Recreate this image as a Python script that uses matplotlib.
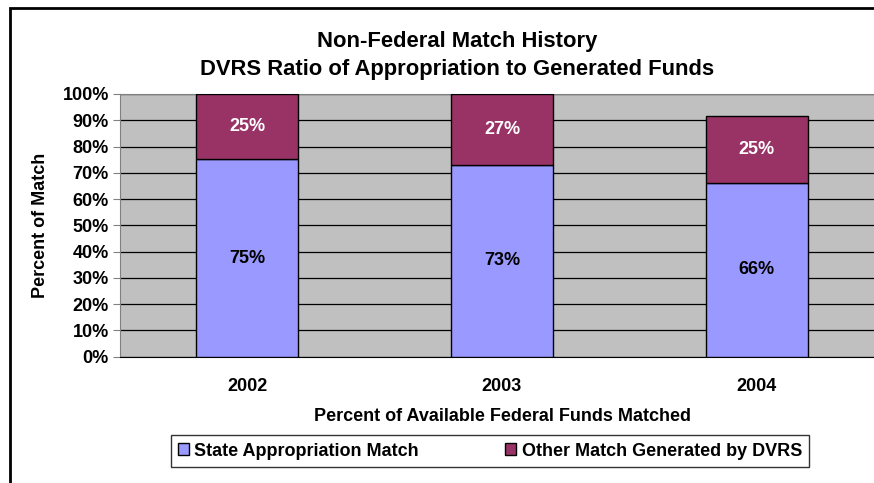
import numpy as np
import matplotlib.pyplot as plt
from matplotlib.patches import Patch, Rectangle

plt.rcParams["font.family"] = ["Liberation Sans", "DejaVu Sans"]
plt.rcParams["font.weight"] = "bold"

years = ["2002", "2003", "2004"]
state_match = [75.1, 73.0, 66.3]
other_match = [24.9, 27.0, 25.3]
series_names = ["State Appropriation Match", "Other Match Generated by DVRS"]

fs = 13

fig = plt.figure(figsize=(8.74, 4.83), dpi=100)
ax = fig.add_axes([120 / 874, 1 - 356.7 / 483, 764 / 874, 262.7 / 483])
ax.set_facecolor("#C0C0C0")

x = np.arange(len(years))
w = 0.4
ax.bar(x, state_match, w, color="#9999FF", edgecolor="black", linewidth=1, zorder=3)
ax.bar(x, other_match, w, bottom=state_match, color="#993366", edgecolor="black", linewidth=1, zorder=3)

for i in range(len(years)):
    ax.text(x[i], state_match[i] / 2, f"{state_match[i]:.0f}%", ha="center", va="center",
            fontsize=fs, fontweight="bold", color="black", zorder=4)
    ax.text(x[i], state_match[i] + other_match[i] / 2, f"{other_match[i]:.0f}%", ha="center", va="center",
            fontsize=fs, fontweight="bold", color="white", zorder=4)

ax.set_xlim(-0.5, 2.5)
ax.set_ylim(0, 100)
ax.set_yticks(np.arange(0, 101, 10))
ax.set_yticklabels([f"{v}%" for v in range(0, 101, 10)], fontsize=fs, fontweight="bold")
ax.set_xticks(x)
ax.set_xticklabels(years, fontsize=fs, fontweight="bold")
ax.tick_params(axis="x", length=0, pad=15)
ax.tick_params(axis="y", length=5, direction="out", color="#808080", pad=3)
ax.yaxis.grid(True, color="black", linewidth=0.9, zorder=1)
ax.set_axisbelow(True)
for s in ["top", "right", "left"]:
    ax.spines[s].set_color("#808080")
ax.spines["bottom"].set_color("black")

ax.set_ylabel("Percent of Match", fontsize=fs, fontweight="bold", labelpad=10)
ax.set_xlabel("Percent of Available Federal Funds Matched", fontsize=fs, fontweight="bold", labelpad=10)

fig.text(457 / 874, 1 - 42 / 483, "Non-Federal Match History", ha="center", va="center",
         fontsize=15.8, fontweight="bold")
fig.text(457 / 874, 1 - 70 / 483, "DVRS Ratio of Appropriation to Generated Funds", ha="center", va="center",
         fontsize=15.8, fontweight="bold")

handles = [Patch(facecolor="#9999FF", edgecolor="black"), Patch(facecolor="#993366", edgecolor="black")]
leg = fig.legend(handles, series_names, loc="center", bbox_to_anchor=(490 / 874, 1 - 451 / 483),
                 ncol=2, fontsize=fs, frameon=True, fancybox=False, edgecolor="black",
                 handlelength=0.6, handleheight=0.6, handletextpad=0.3, columnspacing=4.8,
                 borderpad=0.4, borderaxespad=0, handler_map=None)
leg.get_frame().set_linewidth(1)
leg._legend_box.sep = 0
leg.set_bbox_to_anchor((490 / 874, 1 - 451 / 483), transform=fig.transFigure)
leg.borderpad = 0.4
for t in leg.get_texts():
    t.set_fontweight("bold")

fig.patches.append(Rectangle((10 / 874, -0.1), 1.2, 1 - 8 / 483 + 0.1, transform=fig.transFigure,
                             fill=False, edgecolor="black", linewidth=2))

fig.savefig("out.png", dpi=100)
